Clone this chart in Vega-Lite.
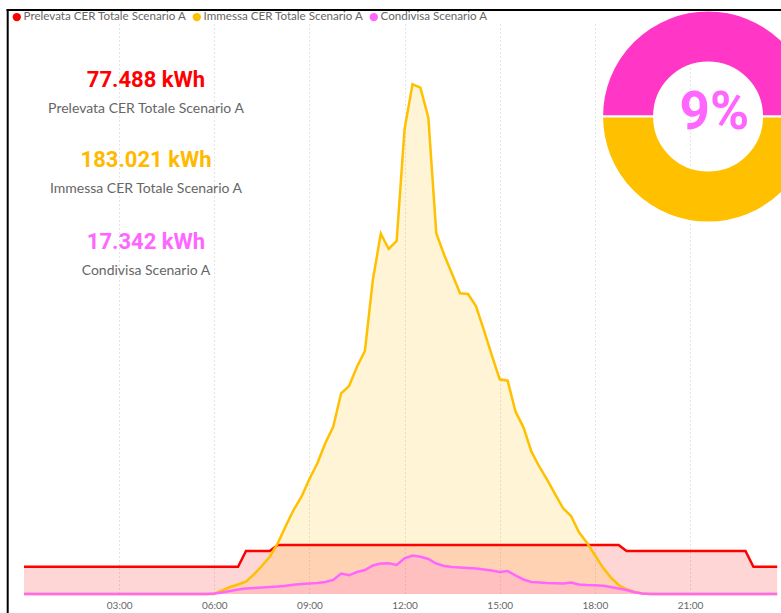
{
  "$schema": "https://vega.github.io/schema/vega-lite/v6.json",
  "width": 757,
  "height": 570,
  "autosize": {"type": "none"},
  "padding": {"left": 24, "top": 24, "right": 0, "bottom": 19},
  "background": "white",
  "config": {"view": {"stroke": null}, "font": "Lato"},
  "datasets": {
    "serie": [
      {"ora":0,"Prelevata":0.543,"Immessa":0,"Condivisa":0},
      {"ora":0.25,"Prelevata":0.543,"Immessa":0,"Condivisa":0},
      {"ora":0.5,"Prelevata":0.543,"Immessa":0,"Condivisa":0},
      {"ora":0.75,"Prelevata":0.543,"Immessa":0,"Condivisa":0},
      {"ora":1,"Prelevata":0.543,"Immessa":0,"Condivisa":0},
      {"ora":1.25,"Prelevata":0.543,"Immessa":0,"Condivisa":0},
      {"ora":1.5,"Prelevata":0.543,"Immessa":0,"Condivisa":0},
      {"ora":1.75,"Prelevata":0.543,"Immessa":0,"Condivisa":0},
      {"ora":2,"Prelevata":0.543,"Immessa":0,"Condivisa":0},
      {"ora":2.25,"Prelevata":0.543,"Immessa":0,"Condivisa":0},
      {"ora":2.5,"Prelevata":0.543,"Immessa":0,"Condivisa":0},
      {"ora":2.75,"Prelevata":0.543,"Immessa":0,"Condivisa":0},
      {"ora":3,"Prelevata":0.543,"Immessa":0,"Condivisa":0},
      {"ora":3.25,"Prelevata":0.543,"Immessa":0,"Condivisa":0},
      {"ora":3.5,"Prelevata":0.543,"Immessa":0,"Condivisa":0},
      {"ora":3.75,"Prelevata":0.543,"Immessa":0,"Condivisa":0},
      {"ora":4,"Prelevata":0.543,"Immessa":0,"Condivisa":0},
      {"ora":4.25,"Prelevata":0.543,"Immessa":0,"Condivisa":0},
      {"ora":4.5,"Prelevata":0.543,"Immessa":0,"Condivisa":0},
      {"ora":4.75,"Prelevata":0.543,"Immessa":0,"Condivisa":0},
      {"ora":5,"Prelevata":0.543,"Immessa":0,"Condivisa":0},
      {"ora":5.25,"Prelevata":0.543,"Immessa":0,"Condivisa":0},
      {"ora":5.5,"Prelevata":0.543,"Immessa":0,"Condivisa":0},
      {"ora":5.75,"Prelevata":0.543,"Immessa":0,"Condivisa":0},
      {"ora":6,"Prelevata":0.543,"Immessa":0,"Condivisa":0.010},
      {"ora":6.25,"Prelevata":0.543,"Immessa":0.070,"Condivisa":0.030},
      {"ora":6.5,"Prelevata":0.543,"Immessa":0.139,"Condivisa":0.060},
      {"ora":6.75,"Prelevata":0.543,"Immessa":0.189,"Condivisa":0.090},
      {"ora":7,"Prelevata":0.856,"Immessa":0.245,"Condivisa":0.109},
      {"ora":7.25,"Prelevata":0.856,"Immessa":0.392,"Condivisa":0.119},
      {"ora":7.5,"Prelevata":0.856,"Immessa":0.557,"Condivisa":0.129},
      {"ora":7.75,"Prelevata":0.856,"Immessa":0.742,"Condivisa":0.139},
      {"ora":8,"Prelevata":0.975,"Immessa":1.009,"Condivisa":0.149},
      {"ora":8.25,"Prelevata":0.975,"Immessa":1.347,"Condivisa":0.165},
      {"ora":8.5,"Prelevata":0.975,"Immessa":1.672,"Condivisa":0.185},
      {"ora":8.75,"Prelevata":0.975,"Immessa":1.936,"Condivisa":0.199},
      {"ora":9,"Prelevata":0.975,"Immessa":2.289,"Condivisa":0.209},
      {"ora":9.25,"Prelevata":0.975,"Immessa":2.601,"Condivisa":0.219},
      {"ora":9.5,"Prelevata":0.975,"Immessa":2.999,"Condivisa":0.239},
      {"ora":9.75,"Prelevata":0.975,"Immessa":3.329,"Condivisa":0.279},
      {"ora":10,"Prelevata":0.975,"Immessa":3.994,"Condivisa":0.408},
      {"ora":10.25,"Prelevata":0.975,"Immessa":4.139,"Condivisa":0.372},
      {"ora":10.5,"Prelevata":0.975,"Immessa":4.523,"Condivisa":0.438},
      {"ora":10.75,"Prelevata":0.975,"Immessa":4.836,"Condivisa":0.478},
      {"ora":11,"Prelevata":0.975,"Immessa":6.249,"Condivisa":0.567},
      {"ora":11.25,"Prelevata":0.975,"Immessa":7.170,"Condivisa":0.607},
      {"ora":11.5,"Prelevata":0.975,"Immessa":6.866,"Condivisa":0.611},
      {"ora":11.75,"Prelevata":0.975,"Immessa":7.025,"Condivisa":0.577},
      {"ora":12,"Prelevata":0.975,"Immessa":9.248,"Condivisa":0.710},
      {"ora":12.25,"Prelevata":0.975,"Immessa":10.143,"Condivisa":0.766},
      {"ora":12.5,"Prelevata":0.975,"Immessa":10.075,"Condivisa":0.742},
      {"ora":12.75,"Prelevata":0.975,"Immessa":9.478,"Condivisa":0.697},
      {"ora":13,"Prelevata":0.975,"Immessa":7.178,"Condivisa":0.607},
      {"ora":13.25,"Prelevata":0.975,"Immessa":6.746,"Condivisa":0.557},
      {"ora":13.5,"Prelevata":0.975,"Immessa":6.368,"Condivisa":0.537},
      {"ora":13.75,"Prelevata":0.975,"Immessa":5.984,"Condivisa":0.527},
      {"ora":14,"Prelevata":0.975,"Immessa":5.970,"Condivisa":0.517},
      {"ora":14.25,"Prelevata":0.975,"Immessa":5.731,"Condivisa":0.507},
      {"ora":14.5,"Prelevata":0.975,"Immessa":5.254,"Condivisa":0.488},
      {"ora":14.75,"Prelevata":0.975,"Immessa":4.756,"Condivisa":0.468},
      {"ora":15,"Prelevata":0.975,"Immessa":4.273,"Condivisa":0.438},
      {"ora":15.25,"Prelevata":0.975,"Immessa":4.245,"Condivisa":0.458},
      {"ora":15.5,"Prelevata":0.975,"Immessa":3.628,"Condivisa":0.368},
      {"ora":15.75,"Prelevata":0.975,"Immessa":3.317,"Condivisa":0.289},
      {"ora":16,"Prelevata":0.975,"Immessa":2.832,"Condivisa":0.239},
      {"ora":16.25,"Prelevata":0.975,"Immessa":2.533,"Condivisa":0.229},
      {"ora":16.5,"Prelevata":0.975,"Immessa":2.269,"Condivisa":0.219},
      {"ora":16.75,"Prelevata":0.975,"Immessa":1.984,"Condivisa":0.215},
      {"ora":17,"Prelevata":0.975,"Immessa":1.705,"Condivisa":0.209},
      {"ora":17.25,"Prelevata":0.975,"Immessa":1.552,"Condivisa":0.229},
      {"ora":17.5,"Prelevata":0.975,"Immessa":1.228,"Condivisa":0.189},
      {"ora":17.75,"Prelevata":0.975,"Immessa":1.021,"Condivisa":0.179},
      {"ora":18,"Prelevata":0.975,"Immessa":0.776,"Condivisa":0.173},
      {"ora":18.25,"Prelevata":0.975,"Immessa":0.531,"Condivisa":0.163},
      {"ora":18.5,"Prelevata":0.975,"Immessa":0.332,"Condivisa":0.139},
      {"ora":18.75,"Prelevata":0.975,"Immessa":0.179,"Condivisa":0.109},
      {"ora":19,"Prelevata":0.856,"Immessa":0.094,"Condivisa":0.080},
      {"ora":19.25,"Prelevata":0.856,"Immessa":0.040,"Condivisa":0.036},
      {"ora":19.5,"Prelevata":0.856,"Immessa":0.010,"Condivisa":0.010},
      {"ora":19.75,"Prelevata":0.856,"Immessa":0,"Condivisa":0},
      {"ora":20,"Prelevata":0.856,"Immessa":0,"Condivisa":0},
      {"ora":20.25,"Prelevata":0.856,"Immessa":0,"Condivisa":0},
      {"ora":20.5,"Prelevata":0.856,"Immessa":0,"Condivisa":0},
      {"ora":20.75,"Prelevata":0.856,"Immessa":0,"Condivisa":0},
      {"ora":21,"Prelevata":0.856,"Immessa":0,"Condivisa":0},
      {"ora":21.25,"Prelevata":0.856,"Immessa":0,"Condivisa":0},
      {"ora":21.5,"Prelevata":0.856,"Immessa":0,"Condivisa":0},
      {"ora":21.75,"Prelevata":0.856,"Immessa":0,"Condivisa":0},
      {"ora":22,"Prelevata":0.856,"Immessa":0,"Condivisa":0},
      {"ora":22.25,"Prelevata":0.856,"Immessa":0,"Condivisa":0},
      {"ora":22.5,"Prelevata":0.856,"Immessa":0,"Condivisa":0},
      {"ora":22.75,"Prelevata":0.856,"Immessa":0,"Condivisa":0},
      {"ora":23,"Prelevata":0.543,"Immessa":0,"Condivisa":0},
      {"ora":23.25,"Prelevata":0.543,"Immessa":0,"Condivisa":0},
      {"ora":23.5,"Prelevata":0.543,"Immessa":0,"Condivisa":0},
      {"ora":23.75,"Prelevata":0.543,"Immessa":0,"Condivisa":0}
    ],
    "kpi": [
      {"id": 1, "valore": "77.488 kWh", "nome": "Prelevata CER Totale Scenario A"},
      {"id": 2, "valore": "183.021 kWh", "nome": "Immessa CER Totale Scenario A"},
      {"id": 3, "valore": "17.342 kWh", "nome": "Condivisa Scenario A"}
    ],
    "quota": [
      {"fetta": "Condivisa", "quota": 50},
      {"fetta": "Immessa", "quota": 50}
    ],
    "percentuale": [{"testo": "9%"}],
    "cornice": [{"lato": "bordo"}]
  },
  "resolve": {"scale": {"color": "independent"}},
  "layer": [
    {
      "data": {"name": "serie"},
      "transform": [{"fold": ["Prelevata", "Immessa", "Condivisa"], "as": ["serie", "kWh"]}],
      "mark": {"type": "area", "fillOpacity": 0.16, "line": {"strokeWidth": 2.5}},
      "encoding": {
        "x": {
          "field": "ora", "type": "quantitative",
          "scale": {"domain": [0, 23.87], "nice": false, "zero": false},
          "axis": {
            "values": [3, 6, 9, 12, 15, 18, 21],
            "labelExpr": "(datum.value < 10 ? '0' : '') + datum.value + ':00'",
            "title": null, "domain": false, "ticks": false,
            "grid": true, "gridDash": [1, 3], "gridColor": "#C8C8C8", "gridWidth": 1,
            "labelFontSize": 10, "labelColor": "#666666", "labelPadding": 6, "labelFont": "Lato"
          }
        },
        "y": {
          "field": "kWh", "type": "quantitative", "stack": null,
          "scale": {"domain": [0, 11.343], "nice": false},
          "axis": null
        },
        "color": {
          "field": "serie", "type": "nominal",
          "scale": {"domain": ["Prelevata", "Immessa", "Condivisa"], "range": ["#FF0000", "#FFC000", "#FF66FF"]},
          "legend": {
            "title": null, "orient": "none", "legendX": -13, "legendY": -13,
            "direction": "horizontal", "symbolType": "circle", "symbolSize": 70,
            "symbolOpacity": 1, "symbolStrokeWidth": 0,
            "labelFontSize": 11.6, "labelColor": "#666666", "labelFont": "Lato",
            "labelLimit": 400, "labelOffset": 1, "columnPadding": 4,
            "labelExpr": "datum.label == 'Prelevata' ? 'Prelevata CER Totale Scenario A' : datum.label == 'Immessa' ? 'Immessa CER Totale Scenario A' : 'Condivisa Scenario A'"
          }
        }
      }
    },
    {
      "data": {"name": "kpi"},
      "transform": [{"filter": "datum.id == 1"}],
      "mark": {"type": "text", "font": "Roboto", "fontWeight": "bold", "fontSize": 22, "color": "#FF0000", "align": "center", "baseline": "alphabetic"},
      "encoding": {"x": {"datum": 3.847, "type": "quantitative"}, "y": {"datum": 10.083, "type": "quantitative"}, "text": {"field": "valore"}}
    },
    {
      "data": {"name": "kpi"},
      "transform": [{"filter": "datum.id == 1"}],
      "mark": {"type": "text", "font": "Lato", "fontSize": 14, "color": "#666666", "align": "center", "baseline": "alphabetic"},
      "encoding": {"x": {"datum": 3.847, "type": "quantitative"}, "y": {"datum": 9.566, "type": "quantitative"}, "text": {"field": "nome"}}
    },
    {
      "data": {"name": "kpi"},
      "transform": [{"filter": "datum.id == 2"}],
      "mark": {"type": "text", "font": "Roboto", "fontWeight": "bold", "fontSize": 22, "color": "#FFBA00", "align": "center", "baseline": "alphabetic"},
      "encoding": {"x": {"datum": 3.847, "type": "quantitative"}, "y": {"datum": 8.491, "type": "quantitative"}, "text": {"field": "valore"}}
    },
    {
      "data": {"name": "kpi"},
      "transform": [{"filter": "datum.id == 2"}],
      "mark": {"type": "text", "font": "Lato", "fontSize": 14, "color": "#666666", "align": "center", "baseline": "alphabetic"},
      "encoding": {"x": {"datum": 3.847, "type": "quantitative"}, "y": {"datum": 7.974, "type": "quantitative"}, "text": {"field": "nome"}}
    },
    {
      "data": {"name": "kpi"},
      "transform": [{"filter": "datum.id == 3"}],
      "mark": {"type": "text", "font": "Roboto", "fontWeight": "bold", "fontSize": 22, "color": "#FF66FF", "align": "center", "baseline": "alphabetic"},
      "encoding": {"x": {"datum": 3.847, "type": "quantitative"}, "y": {"datum": 6.866, "type": "quantitative"}, "text": {"field": "valore"}}
    },
    {
      "data": {"name": "kpi"},
      "transform": [{"filter": "datum.id == 3"}],
      "mark": {"type": "text", "font": "Lato", "fontSize": 14, "color": "#666666", "align": "center", "baseline": "alphabetic"},
      "encoding": {"x": {"datum": 3.847, "type": "quantitative"}, "y": {"datum": 6.348, "type": "quantitative"}, "text": {"field": "nome"}}
    },
    {
      "data": {"name": "quota"},
      "mark": {"type": "arc", "outerRadius": 106, "innerRadius": 54, "stroke": "white", "strokeWidth": 2},
      "encoding": {
        "x": {"datum": 21.57, "type": "quantitative"},
        "y": {"datum": 9.502, "type": "quantitative"},
        "theta": {"field": "quota", "type": "quantitative", "scale": {"range": [-1.5708, 4.7124]}},
        "color": {
          "field": "fetta", "type": "nominal",
          "scale": {"domain": ["Condivisa", "Immessa"], "range": ["#FF36C6", "#FFC000"]},
          "legend": null
        }
      }
    },
    {
      "data": {"name": "percentuale"},
      "mark": {"type": "text", "font": "Roboto", "fontWeight": "bold", "fontSize": 53, "color": "#FF66FF", "align": "center", "baseline": "alphabetic"},
      "encoding": {"x": {"datum": 21.77, "type": "quantitative"}, "y": {"datum": 9.248, "type": "quantitative"}, "text": {"field": "testo"}}
    },
    {
      "data": {"name": "cornice"},
      "mark": {"type": "rule", "color": "#000000", "strokeWidth": 2},
      "encoding": {"x": {"datum": -0.514, "type": "quantitative"}, "y": {"datum": 11.64, "type": "quantitative"}, "y2": {"datum": -1}}
    },
    {
      "data": {"name": "cornice"},
      "mark": {"type": "rule", "color": "#000000", "strokeWidth": 2},
      "encoding": {"y": {"datum": 11.62, "type": "quantitative"}, "x": {"datum": -0.55, "type": "quantitative"}, "x2": {"datum": 25}}
    }
  ]
}
